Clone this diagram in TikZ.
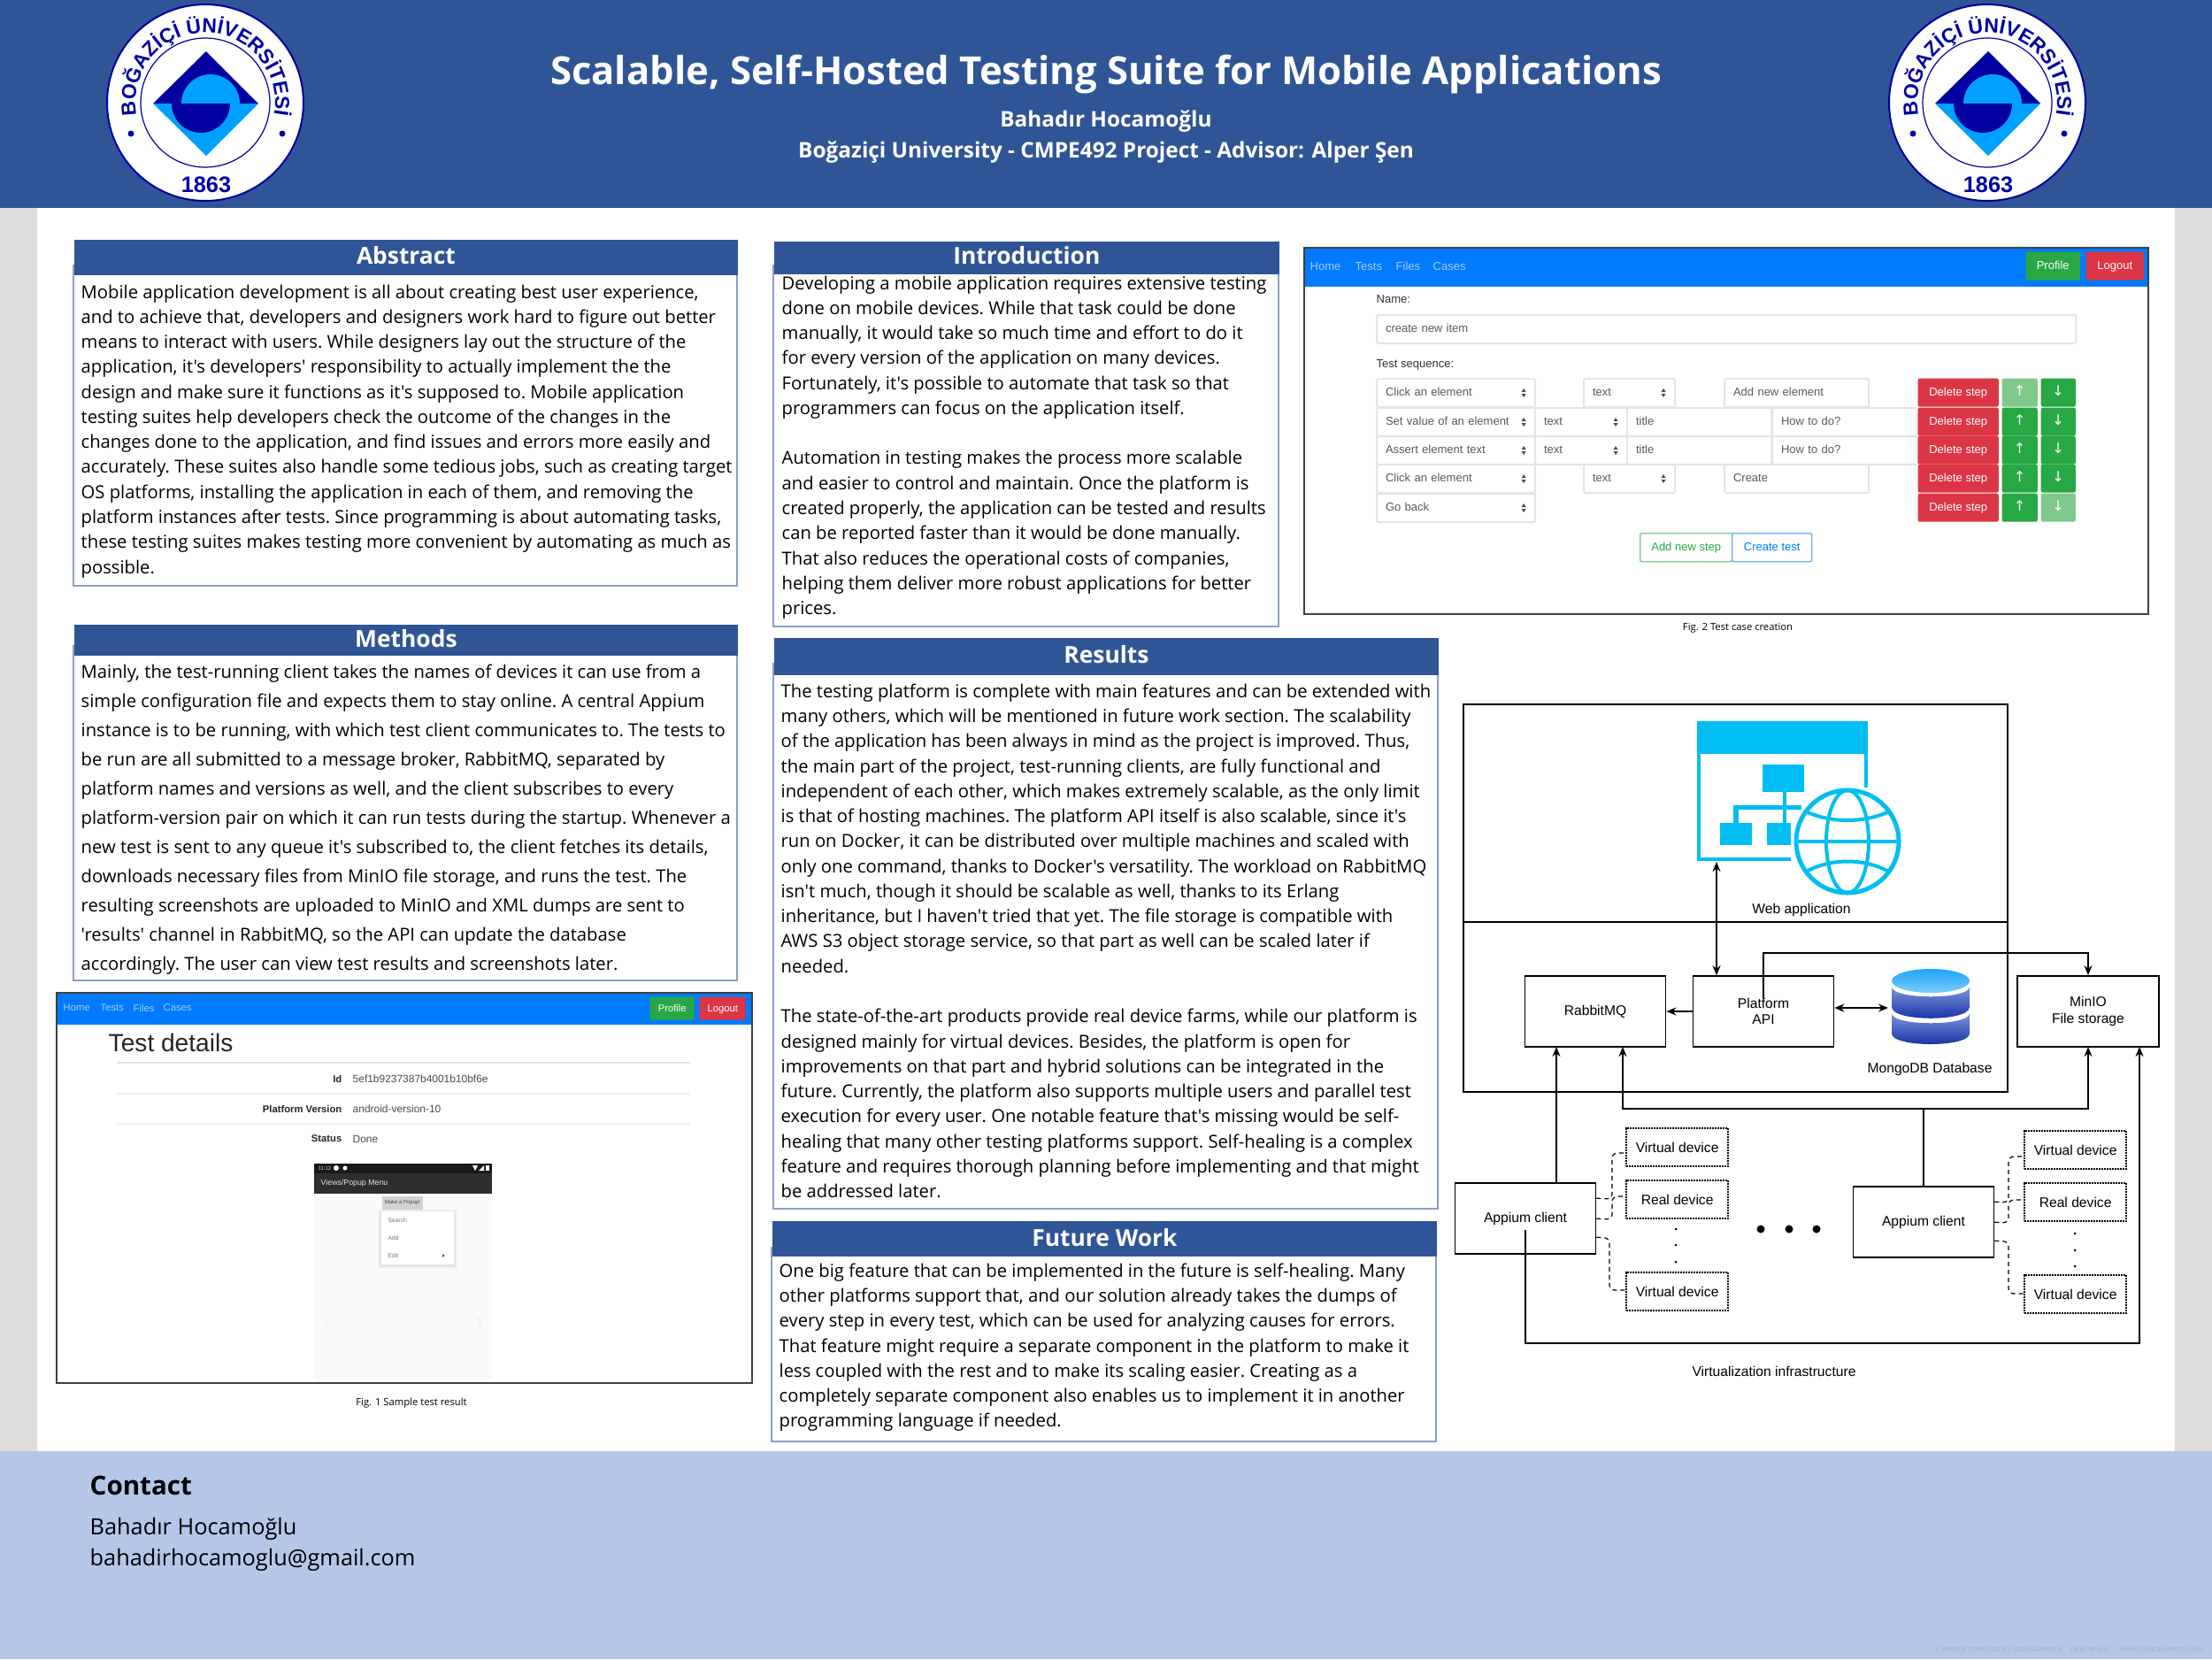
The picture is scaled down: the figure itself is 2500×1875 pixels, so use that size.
\documentclass[tikz,border=0pt]{standalone}
\usepackage{fontspec}
\setmainfont{Open Sans}[Ligatures=TeXOff]
\newfontfamily\uifont{Liberation Sans}
\newfontfamily\symfont{DejaVu Sans}
\newfontfamily\markfont{Liberation Serif}
\usetikzlibrary{arrows.meta,calc,decorations.text}
\definecolor{headblue}{RGB}{47,85,151}
\definecolor{footblue}{RGB}{180,199,231}
\definecolor{sidegrey}{RGB}{220,220,220}
\definecolor{panelline}{RGB}{140,158,200}
\definecolor{logoblue}{RGB}{0,0,160}
\definecolor{logolight}{RGB}{0,160,255}
\definecolor{navblue}{RGB}{0,123,255}
\definecolor{navtext}{RGB}{160,205,255}
\definecolor{btngreen}{RGB}{40,167,69}
\definecolor{btnred}{RGB}{220,53,69}
\definecolor{fadegreen}{RGB}{128,200,140}
\definecolor{webblue}{RGB}{0,190,242}
\definecolor{dbtop}{RGB}{30,165,250}
\definecolor{dblight}{RGB}{125,205,250}
\definecolor{dbmid}{RGB}{125,150,220}
\definecolor{dbdark}{RGB}{15,40,160}
\newcommand{\logotype}{\fontsize{6.5}{8}\uifont\bfseries\color{logoblue}}
\newcommand{\uismall}{\fontsize{3.7}{4.5}\uifont}
\newcommand{\uitiny}{\fontsize{3.2}{4}\uifont}
\newcommand{\uisym}{\fontsize{4.6}{5}\symfont}
\newcommand{\archfont}{\fontsize{4.45}{5.2}\uifont}
\newcommand{\bodyfont}{\fontsize{5.75}{8.04}\selectfont\frenchspacing}
\tikzset{
  bodytext/.style={anchor=north west,align=left,inner sep=0pt,font=\bodyfont},
  secthead/.style={anchor=north west,fill=headblue,text=white,inner sep=0pt,minimum height=0.4cm,text height=5.6pt,text depth=0.9pt,font=\fontsize{7.5}{8}\selectfont\bfseries},
  panelbox/.style={draw=panelline,line width=0.015cm},
  figframe/.style={draw=black!75,line width=0.02cm},
  caption/.style={font=\fontsize{3.2}{4}\selectfont},
  navlink/.style={anchor=west,inner sep=0pt,text=navtext},
  uibtn/.style={anchor=north west,inner sep=0pt,rounded corners=0.02cm,text=white,font=\uismall,text height=2.8pt,text depth=0.7pt,minimum height=0.32cm},
  uifield/.style={anchor=north west,draw=black!10,fill=white,line width=0.02cm,rounded corners=0.02cm,inner xsep=0.1cm,inner ysep=0pt,align=left,text=black!65,font=\uismall,text height=2.8pt,text depth=0.7pt,minimum height=0.32cm},
  uilabel/.style={anchor=west,inner sep=0pt,text=black!80,font=\uismall},
  rowname/.style={anchor=east,inner sep=0pt,text=black!85,font=\uitiny\bfseries},
  rowvalue/.style={anchor=west,inner sep=0pt,text=black!70,font=\fontsize{3.4}{4}\uifont},
  archbox/.style={draw,line width=0.016cm,inner sep=0pt,align=center,font=\archfont,minimum width=1.59cm,minimum height=0.8cm},
  devicebox/.style={draw,dash pattern=on 0.018cm off 0.012cm,line width=0.022cm,inner sep=0pt,font=\archfont,minimum width=1.15cm,minimum height=0.43cm,anchor=north west},
  archtext/.style={inner sep=0pt,font=\archfont},
  wire/.style={line width=0.016cm},
  arrowwire/.style={line width=0.016cm,-{Stealth[length=0.11cm,width=0.09cm]}},
  bothwire/.style={line width=0.016cm,{Stealth[length=0.11cm,width=0.09cm]}-{Stealth[length=0.11cm,width=0.09cm]}},
  devwire/.style={line width=0.012cm,dash pattern=on 0.05cm off 0.04cm,rounded corners=0.06cm},
  selarrows/.pic={
    \fill[black!70] (-2.5,-1) -- (2.5,-1) -- (0,-5) -- cycle;
    \fill[black!70] (-2.5,1) -- (2.5,1) -- (0,5) -- cycle;
  },
  univlogo/.pic={
    \begin{scope}[y=0.01cm]
    \draw[logoblue,fill=white,line width=0.02cm] (0,0) circle (111);
    \draw[logoblue,line width=0.012cm] (0,0) circle (73);
    \fill[logoblue] (1,58) -- (-59,-1) -- (60,-1) -- cycle;
    \fill[logolight] (1,-60) -- (-59,-1) -- (60,-1) -- cycle;
    \fill[logolight] (39,-1) arc[start angle=0,end angle=180,radius=33] -- cycle;
    \fill[logoblue] (28,-1) arc[start angle=0,end angle=-180,radius=33] -- cycle;
    \fill[logoblue] (-84,-35) circle (3.5);
    \fill[logoblue] (87,-35) circle (3.5);
    \path[decorate,decoration={text along path,text align=center,text={|\logotype|BOĞAZİÇİ ÜNİVERSİTESİ}}]
      (190:79) arc[start angle=190,end angle=-10,radius=79];
    \node[inner sep=0pt,text=logoblue,font=\fontsize{7.2}{8}\uifont\bfseries] (year) at (1,-93) {1863};
    \end{scope}
  }
}
\begin{document}
\begin{tikzpicture}[x=0.01cm,y=-0.01cm]
\useasboundingbox (0,0) rectangle (2500,1875);
% Page
\fill[sidegrey] (0,235) rectangle (2500,1640);
\fill[white] (42,235) rectangle (2458,1640);
\fill[headblue] (0,0) rectangle (2500,235);
\fill[footblue] (0,1640) rectangle (2500,1875);
% Header
\pic at (232,116) {univlogo};
\pic at (2246,116) {univlogo};
\node[text=white,font=\fontsize{12.4}{14}\selectfont\bfseries] (title) at (1250,84) {Scalable, Self-Hosted Testing Suite for Mobile Applications};
\node[text=white,font=\fontsize{6.93}{8}\selectfont\bfseries] (author) at (1250,137) {Bahadır Hocamoğlu};
\node[text=white,font=\fontsize{6.93}{8}\selectfont\bfseries] (school) at (1250,172) {Boğaziçi University - CMPE492 Project - Advisor: Alper Şen};
% Abstract
\draw[panelbox] (83,300) rectangle (833,662);
\node[secthead,minimum width=7.5cm] (abstracthead) at (83,270) {Abstract};
\node[bodytext] (abstracttext) at (91,321) {Mobile application development is all about creating best user experience,\\
and to achieve that, developers and designers work hard to figure out better\\
means to interact with users. While designers lay out the structure of the\\
application, it's developers' responsibility to actually implement the the\\
design and make sure it functions as it's supposed to. Mobile application\\
testing suites help developers check the outcome of the changes in the\\
changes done to the application, and find issues and errors more easily and\\
accurately. These suites also handle some tedious jobs, such as creating target\\
OS platforms, installing the application in each of them, and removing the\\
platform instances after tests. Since programming is about automating tasks,\\
these testing suites makes testing more convenient by automating as much as\\
possible.};
% Methods
\draw[panelbox] (83,730) rectangle (833,1108);
\node[secthead,minimum width=7.5cm,minimum height=0.35cm] (methodshead) at (83,705) {Methods};
\node[bodytext,font=\fontsize{5.75}{9.38}\selectfont\frenchspacing] (methodstext) at (91,750) {Mainly, the test-running client takes the names of devices it can use from a\\
simple configuration file and expects them to stay online. A central Appium\\
instance is to be running, with which test client communicates to. The tests to\\
be run are all submitted to a message broker, RabbitMQ, separated by\\
platform names and versions as well, and the client subscribes to every\\
platform-version pair on which it can run tests during the startup. Whenever a\\
new test is sent to any queue it's subscribed to, the client fetches its details,\\
downloads necessary files from MinIO file storage, and runs the test. The\\
resulting screenshots are uploaded to MinIO and XML dumps are sent to\\
'results' channel in RabbitMQ, so the API can update the database\\
accordingly. The user can view test results and screenshots later.};
% Introduction
\draw[panelbox] (874,300) rectangle (1445,708);
\node[secthead,minimum width=5.71cm,minimum height=0.37cm,text depth=1.7pt] (introhead) at (874,272) {Introduction};
\node[bodytext] (introtext) at (883,311) {Developing a mobile application requires extensive testing\\
done on mobile devices. While that task could be done\\
manually, it would take so much time and effort to do it\\
for every version of the application on many devices.\\
Fortunately, it's possible to automate that task so that\\
programmers can focus on the application itself.\\
~\\
Automation in testing makes the process more scalable\\
and easier to control and maintain. Once the platform is\\
created properly, the application can be tested and results\\
can be reported faster than it would be done manually.\\
That also reduces the operational costs of companies,\\
helping them deliver more robust applications for better\\
prices.};
% Results
\draw[panelbox] (874,750) rectangle (1625,1366);
\node[secthead,minimum width=7.51cm,minimum height=0.42cm] (resultshead) at (874,720) {Results};
\node[bodytext] (resultstext) at (882,772) {The testing platform is complete with main features and can be extended with\\
many others, which will be mentioned in future work section. The scalability\\
of the application has been always in mind as the project is improved. Thus,\\
the main part of the project, test-running clients, are fully functional and\\
independent of each other, which makes extremely scalable, as the only limit\\
is that of hosting machines. The platform API itself is also scalable, since it's\\
run on Docker, it can be distributed over multiple machines and scaled with\\
only one command, thanks to Docker's versatility. The workload on RabbitMQ\\
isn't much, though it should be scalable as well, thanks to its Erlang\\
inheritance, but I haven't tried that yet. The file storage is compatible with\\
AWS S3 object storage service, so that part as well can be scaled later if\\
needed.\\
~\\
The state-of-the-art products provide real device farms, while our platform is\\
designed mainly for virtual devices. Besides, the platform is open for\\
improvements on that part and hybrid solutions can be integrated in the\\
future. Currently, the platform also supports multiple users and parallel test\\
execution for every user. One notable feature that's missing would be self-\\
healing that many other testing platforms support. Self-healing is a complex\\
feature and requires thorough planning before implementing and that might\\
be addressed later.};
% Future work
\draw[panelbox] (872,1410) rectangle (1623,1629);
\node[secthead,minimum width=7.51cm,minimum height=0.4cm] (futurehead) at (872,1379) {Future Work};
\node[bodytext] (futuretext) at (880,1427) {One big feature that can be implemented in the future is self-healing. Many\\
other platforms support that, and our solution already takes the dumps of\\
every step in every test, which can be used for analyzing causes for errors.\\
That feature might require a separate component in the platform to make it\\
less coupled with the rest and to make its scaling easier. Creating as a\\
completely separate component also enables us to implement it in another\\
programming language if needed.};
% Fig 1
\fill[navblue] (64,1122) rectangle (850,1158);
\draw[figframe] (64,1122) rectangle (850,1563);
\node[navlink,font=\uitiny] (homeone) at (71,1139) {Home};
\node[navlink,font=\uitiny] (testsone) at (113,1139) {Tests};
\node[navlink,font=\uitiny] (filesone) at (150,1139) {Files};
\node[navlink,font=\uitiny] (casesone) at (184,1139) {Cases};
\node[uibtn,fill=btngreen,minimum width=0.5cm,minimum height=0.26cm,font=\uitiny] (profileone) at (734,1126) {Profile};
\node[uibtn,fill=btnred,minimum width=0.52cm,minimum height=0.26cm,font=\uitiny] (logoutone) at (790,1126) {Logout};
\node[anchor=west,inner sep=0pt,text=black!85,font=\fontsize{8}{9}\uifont] (detailshead) at (122,1178) {Test details};
\draw[black!12,line width=0.02cm] (132,1201) -- (780,1201);
\draw[black!6,line width=0.012cm] (132,1236) -- (780,1236);
\draw[black!6,line width=0.012cm] (132,1270) -- (780,1270);
\node[rowname] (idname) at (387,1219) {Id};
\node[rowvalue] (idvalue) at (398,1219) {5ef1b9237387b4001b10bf6e};
\node[rowname] (platformname) at (387,1253) {Platform Version};
\node[rowvalue] (platformvalue) at (398,1253) {android-version-10};
\node[rowname] (statusname) at (387,1287) {Status};
\node[rowvalue] (statusvalue) at (398,1287) {Done};
% Phone shot
\fill[black!2] (355,1349) rectangle (556,1562);
\fill[black!82] (355,1326) rectangle (556,1349);
\fill[black!90] (355,1315) rectangle (556,1326);
\node[anchor=west,inner sep=0pt,text=white!80!black,font=\fontsize{1.7}{2}\uifont] (clock) at (359,1320) {11:12};
\fill[white] (380,1320) circle (3);
\fill[white] (390,1320) circle (2.5);
\fill[white] (534,1317) -- (540,1317) -- (537,1323) -- cycle;
\fill[white] (541,1323) -- (547,1323) -- (547,1317) -- cycle;
\fill[white] (549,1317) rectangle (553,1323);
\node[anchor=west,inner sep=0pt,text=white!90!black,font=\fontsize{2.5}{3}\uifont] (viewsname) at (362,1337) {Views/Popup Menu};
\node[fill=black!18,inner sep=0pt,minimum width=0.46cm,minimum height=0.15cm,font=\fontsize{1.7}{2}\uifont,text=black!70] (popupbtn) at (455,1359) {Make a Popup!};
\fill[black!5] (427,1367) rectangle (517,1434);
\fill[black!11] (429,1368) rectangle (515,1432);
\fill[white] (431,1369) rectangle (513,1429);
\node[anchor=west,inner sep=0pt,text=black!55,font=\fontsize{1.9}{2.2}\uifont] (searchitem) at (438,1379) {Search};
\node[anchor=west,inner sep=0pt,text=black!55,font=\fontsize{1.9}{2.2}\uifont] (additem) at (438,1399) {Add};
\node[anchor=west,inner sep=0pt,text=black!55,font=\fontsize{1.9}{2.2}\uifont] (edititem) at (438,1419) {Edit};
\fill[black!60] (500,1417) -- (503,1419) -- (500,1421) -- cycle;
\draw[black!5,line width=0.02cm] (372,1489) -- (367,1495) -- (372,1501);
\draw[black!5,line width=0.02cm] (539,1489) -- (544,1495) -- (539,1501);
\node[caption] (figonecap) at (465,1586) {Fig. 1 Sample test result};
% Fig 2
\fill[navblue] (1474,280) rectangle (2428,324);
\draw[figframe] (1474,280) rectangle (2428,694);
\node[navlink,font=\uismall] (hometwo) at (1480,301) {Home};
\node[navlink,font=\uismall] (teststwo) at (1531,301) {Tests};
\node[navlink,font=\uismall] (filestwo) at (1577,301) {Files};
\node[navlink,font=\uismall] (casestwo) at (1619,301) {Cases};
\node[uibtn,fill=btngreen,minimum width=0.61cm] (profiletwo) at (2289,284) {Profile};
\node[uibtn,fill=btnred,minimum width=0.65cm] (logouttwo) at (2357,284) {Logout};
\node[uilabel] (namelabel) at (1555,338) {Name:};
\node[uifield,text width=7.7cm] (namefield) at (1555,355) {create new item};
\node[uilabel] (seqlabel) at (1555,412) {Test sequence:};
% row 1
\node[uifield,text width=1.59cm] (actionone) at (1555,427) {Click an element};
\node[uifield,text width=0.83cm] (kindone) at (1789,427) {text};
\node[uifield,text width=1.43cm] (valueone) at (1948,427) {Add new element};
% row 2
\node[uifield,text width=1.59cm] (actiontwo) at (1555,460) {Set value of an element};
\node[uifield,text width=0.84cm] (kindtwo) at (1734,460) {text};
\node[uifield,text width=1.43cm] (titletwo) at (1838,460) {title};
\node[uifield,text width=1.44cm] (valuetwo) at (2002,460) {How to do?};
% row 3
\node[uifield,text width=1.59cm] (actionthree) at (1555,492) {Assert element text};
\node[uifield,text width=0.84cm] (kindthree) at (1734,492) {text};
\node[uifield,text width=1.43cm] (titlethree) at (1838,492) {title};
\node[uifield,text width=1.44cm] (valuethree) at (2002,492) {How to do?};
% row 4
\node[uifield,text width=1.59cm] (actionfour) at (1555,524) {Click an element};
\node[uifield,text width=0.83cm] (kindfour) at (1789,524) {text};
\node[uifield,text width=1.43cm] (valuefour) at (1948,524) {Create};
% row 5
\node[uifield,text width=1.59cm] (actionfive) at (1555,557) {Go back};
% select arrows
\pic at ($(actionone.east)+(-14,0)$) {selarrows};
\pic at ($(actiontwo.east)+(-14,0)$) {selarrows};
\pic at ($(actionthree.east)+(-14,0)$) {selarrows};
\pic at ($(actionfour.east)+(-14,0)$) {selarrows};
\pic at ($(actionfive.east)+(-14,0)$) {selarrows};
\pic at ($(kindone.east)+(-14,0)$) {selarrows};
\pic at ($(kindtwo.east)+(-14,0)$) {selarrows};
\pic at ($(kindthree.east)+(-14,0)$) {selarrows};
\pic at ($(kindfour.east)+(-14,0)$) {selarrows};
% step buttons
\node[uibtn,fill=btnred,minimum width=0.91cm] (delone) at (2167,427) {Delete step};
\node[uibtn,fill=btnred,minimum width=0.91cm] (deltwo) at (2167,460) {Delete step};
\node[uibtn,fill=btnred,minimum width=0.91cm] (delthree) at (2167,492) {Delete step};
\node[uibtn,fill=btnred,minimum width=0.91cm] (delfour) at (2167,524) {Delete step};
\node[uibtn,fill=btnred,minimum width=0.91cm] (delfive) at (2167,557) {Delete step};
\node[uibtn,fill=fadegreen,minimum width=0.4cm,font=\uisym] (upone) at (2262,427) {↑};
\node[uibtn,fill=btngreen,minimum width=0.4cm,font=\uisym] (uptwo) at (2262,460) {↑};
\node[uibtn,fill=btngreen,minimum width=0.4cm,font=\uisym] (upthree) at (2262,492) {↑};
\node[uibtn,fill=btngreen,minimum width=0.4cm,font=\uisym] (upfour) at (2262,524) {↑};
\node[uibtn,fill=btngreen,minimum width=0.4cm,font=\uisym] (upfive) at (2262,557) {↑};
\node[uibtn,fill=btngreen,minimum width=0.39cm,font=\uisym] (downone) at (2306,427) {↓};
\node[uibtn,fill=btngreen,minimum width=0.39cm,font=\uisym] (downtwo) at (2306,460) {↓};
\node[uibtn,fill=btngreen,minimum width=0.39cm,font=\uisym] (downthree) at (2306,492) {↓};
\node[uibtn,fill=btngreen,minimum width=0.39cm,font=\uisym] (downfour) at (2306,524) {↓};
\node[uibtn,fill=fadegreen,minimum width=0.39cm,font=\uisym] (downfive) at (2306,557) {↓};
\node[uibtn,draw=fadegreen,fill=white,text=btngreen,minimum width=1.04cm] (addstep) at (1853,602) {Add new step};
\node[uibtn,draw=navblue!60,fill=white,text=navblue,minimum width=0.9cm] (createtest) at (1957,602) {Create test};
\node[caption] (figtwocap) at (1964,710) {Fig. 2 Test case creation};
% Architecture
\draw[wire] (1654,796) rectangle (2269,1234);
\draw[wire] (1654,1042) -- (2269,1042);
% web application icon
\fill[webblue] (1918,815) rectangle (2111,852);
\fill[webblue] (1918,852) rectangle (1922,973);
\fill[webblue] (1918,969) rectangle (2024,973);
\fill[webblue] (2107,852) rectangle (2111,890);
\fill[webblue] (1992,864) rectangle (2039,895);
\fill[webblue] (2015,895) rectangle (2019,930);
\fill[webblue] (1959,910) rectangle (2036,915);
\fill[webblue] (1959,910) rectangle (1965,930);
\fill[webblue] (1944,930) rectangle (1980,955);
\fill[webblue] (1997,930) rectangle (2024,955);
\draw[webblue,fill=white,line width=0.05cm] (2088,951) circle (58);
\draw[webblue,line width=0.04cm] (2088,951) ellipse (24 and 58);
\draw[webblue,line width=0.04cm] (2030,951) -- (2146,951);
\draw[webblue,line width=0.04cm] (2043,918) .. controls (2070,930) and (2106,930) .. (2133,918);
\draw[webblue,line width=0.04cm] (2043,984) .. controls (2070,970) and (2106,970) .. (2133,984);
\node[archtext] (webname) at (2036,1028) {Web application};
\coordinate (webfoot) at (1940,974);
% boxes
\node[archbox] (rabbit) at (1803,1143) {RabbitMQ};
\node[archbox] (platform) at (1993,1143) {Platform\\API};
\node[archbox,minimum width=1.6cm] (minio) at (2360,1143) {MinIO\\File storage};
\node[archtext] (mongoname) at (2181,1208) {MongoDB Database};
% database
\shade[top color=dbmid,bottom color=dbdark] (2138,1145) -- (2138,1168) .. controls (2138,1184) and (2226,1184) .. (2226,1168) -- (2226,1145) .. controls (2226,1160) and (2138,1160) .. (2138,1145) -- cycle;
\shade[top color=dbmid,bottom color=dbdark] (2138,1115) -- (2138,1138) .. controls (2138,1155) and (2226,1155) .. (2226,1138) -- (2226,1115) .. controls (2226,1130) and (2138,1130) .. (2138,1115) -- cycle;
\shade[top color=dbtop,bottom color=dblight] (2182,1108.5) ellipse (44 and 13.5);
\coordinate (dbleft) at (2134,1139);
% clients
\node[archbox,minimum width=1.59cm] (appiumone) at (1724,1377) {Appium client};
\node[archbox,minimum width=1.59cm] (appiumtwo) at (2174,1381) {Appium client};
\node[devicebox] (virtualone) at (1837,1274) {Virtual device};
\node[devicebox] (realone) at (1837,1333) {Real device};
\node[devicebox] (lastone) at (1837,1437) {Virtual device};
\node[devicebox] (virtualtwo) at (2287,1277) {Virtual device};
\node[devicebox] (realtwo) at (2287,1336) {Real device};
\node[devicebox] (lasttwo) at (2287,1440) {Virtual device};
\fill (1894,1389) circle (1.5);
\fill (1894,1407) circle (1.5);
\fill (1894,1426) circle (1.5);
\fill (2345,1394) circle (1.5);
\fill (2345,1413) circle (1.5);
\fill (2345,1431) circle (1.5);
\fill (1990,1389) circle (4.5);
\fill (2022,1389) circle (4.5);
\fill (2053,1389) circle (4.5);
\node[archtext] (infraname) at (2005,1550) {Virtualization infrastructure};
% connectors
\coordinate (rabbitone) at (1759,1183);
\coordinate (rabbittwo) at (1834,1183);
\coordinate (minioone) at (2360,1183);
\coordinate (miniotwo) at (2418,1183);
\coordinate (platformtap) at (1993,1128);
\coordinate (apptap) at (1724,1390);
\draw[bothwire] (webfoot) -- (webfoot |- platform.north);
\draw[arrowwire] (platform.west) -- (rabbit.east);
\draw[bothwire] (platform.east |- dbleft) -- (dbleft);
\draw[arrowwire] (platformtap) -- (1993,1077) -- (2360,1077) -- (minio.north);
\draw[arrowwire] (appiumone.north -| rabbitone) -- (rabbitone);
\draw[arrowwire] (2174,1253) -- (1834,1253) -- (rabbittwo);
\draw[arrowwire] (2174,1253) -- (2360,1253) -- (minioone);
\draw[wire] (appiumtwo.north) -- (2174,1253);
\draw[arrowwire] (apptap) -- (1724,1518) -- (2418,1518) -- (miniotwo);
% device links
\draw[devwire] ($(appiumone.north east)+(0,18)$) -- (1822,1355) -- (1822,1303) -- (virtualone.west |- 1837,1303);
\draw[devwire] ($(appiumone.north east)+(0,41)$) -- (1822,1378) -- (1822,1352) -- (realone.west |- 1837,1352);
\draw[devwire] ($(appiumone.north east)+(0,62)$) -- (1819,1399) -- (1819,1458) -- (lastone.west |- 1837,1458);
\draw[devwire] ($(appiumtwo.north east)+(0,18)$) -- (2270,1359) -- (2270,1307) -- (virtualtwo.west |- 2287,1307);
\draw[devwire] ($(appiumtwo.north east)+(0,41)$) -- (2270,1382) -- (2270,1356) -- (realtwo.west |- 2287,1356);
\draw[devwire] ($(appiumtwo.north east)+(0,62)$) -- (2270,1403) -- (2270,1462) -- (lasttwo.west |- 2287,1462);
% Footer
\node[anchor=west,inner sep=0pt,font=\fontsize{8.4}{10}\selectfont\bfseries] (contacthead) at (101,1679) {Contact};
\node[anchor=west,inner sep=0pt,font=\fontsize{7.2}{9}\selectfont] (contactname) at (101,1728) {Bahadır Hocamoğlu};
\node[anchor=west,inner sep=0pt,font=\fontsize{7.2}{9}\selectfont] (contactmail) at (101,1763) {bahadirhocamoglu@gmail.com};
\node[anchor=east,inner sep=0pt,text=footblue!88!black,font=\fontsize{2.1}{3}\markfont] (template) at (2490,1864) {© POSTER TEMPLATE BY GENIGRAPHICS \quad 1.800.790.4001 \quad WWW.GENIGRAPHICS.COM};
\end{tikzpicture}
\end{document}
